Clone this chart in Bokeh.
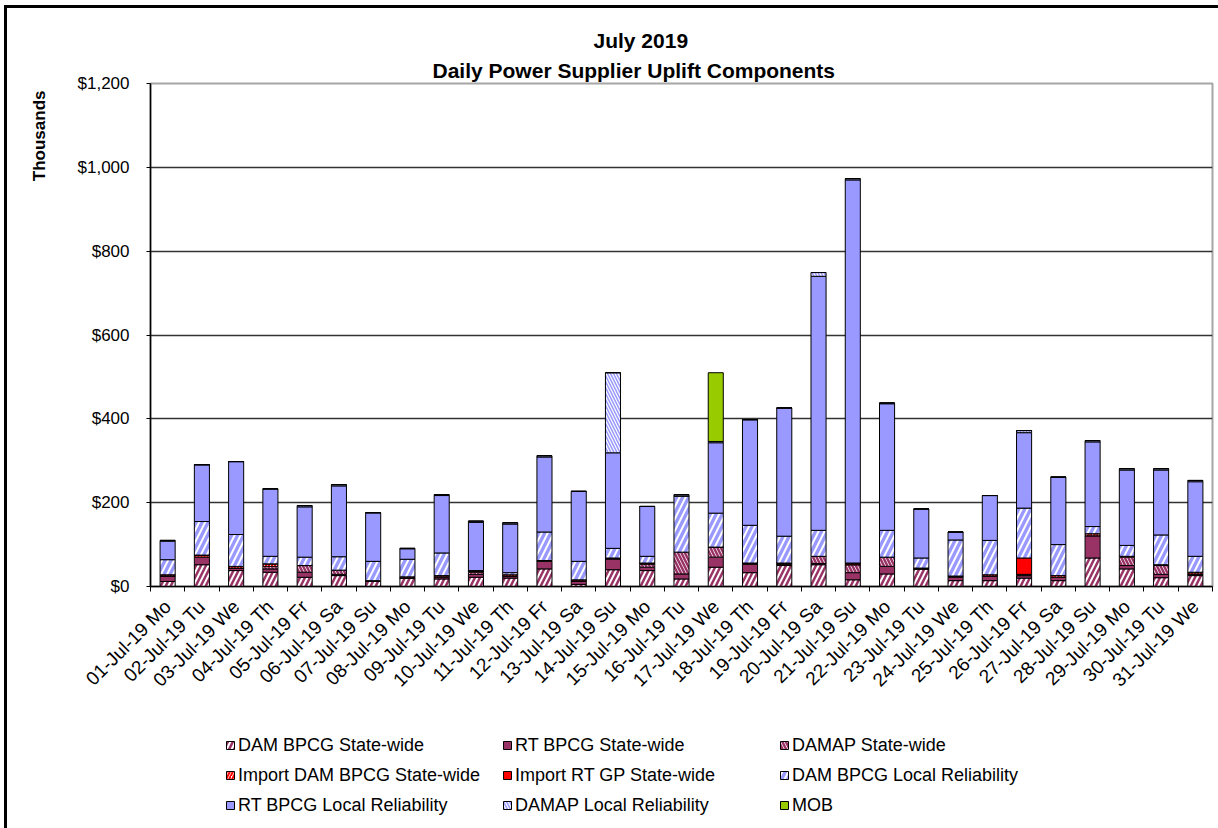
import math
from bokeh.plotting import figure
from bokeh.layouts import column
from bokeh.models import (ColumnDataSource, Range1d, FixedTicker, NumeralTickFormatter,
                          Legend, LegendItem, Title)
from bokeh.embed import file_html
from bokeh.resources import INLINE

# ---------------- data (thousands of $) ----------------
days = ["01-Jul-19 Mo", "02-Jul-19 Tu", "03-Jul-19 We", "04-Jul-19 Th", "05-Jul-19 Fr",
        "06-Jul-19 Sa", "07-Jul-19 Su", "08-Jul-19 Mo", "09-Jul-19 Tu", "10-Jul-19 We",
        "11-Jul-19 Th", "12-Jul-19 Fr", "13-Jul-19 Sa", "14-Jul-19 Su", "15-Jul-19 Mo",
        "16-Jul-19 Tu", "17-Jul-19 We", "18-Jul-19 Th", "19-Jul-19 Fr", "20-Jul-19 Sa",
        "21-Jul-19 Su", "22-Jul-19 Mo", "23-Jul-19 Tu", "24-Jul-19 We", "25-Jul-19 Th",
        "26-Jul-19 Fr", "27-Jul-19 Sa", "28-Jul-19 Su", "29-Jul-19 Mo", "30-Jul-19 Tu",
        "31-Jul-19 We"]

dam_bpcg_sw   = [12, 52, 38, 34, 22, 26, 12, 20, 18, 22, 20, 42, 5, 40, 38, 18, 46, 33, 50, 52,
                 16, 30, 42, 14, 14, 20, 14, 68, 42, 21, 26]
rt_bpcg_sw    = [13, 18, 6, 8, 12, 3, 0, 0, 5, 7, 4, 18, 8, 26, 8, 12, 24, 20, 3, 3,
                 17, 18, 0, 8, 10, 6, 8, 53, 8, 8, 4]
damap_sw      = [0, 0, 0, 6, 16, 10, 0, 0, 0, 5, 0, 0, 0, 0, 7, 52, 24, 0, 0, 17,
                 19, 22, 0, 0, 0, 0, 0, 0, 20, 21, 0]
import_dam_sw = [3, 5, 4, 6, 0, 0, 2, 3, 3, 3, 4, 2, 3, 2, 3, 0, 0, 3, 3, 0,
                 0, 0, 2, 3, 4, 3, 4, 5, 2, 2, 4]
import_rt_gp  = [0, 0, 0, 0, 0, 0, 0, 0, 0, 0, 0, 0, 0, 0, 0, 0, 0, 0, 0, 0,
                 4, 0, 0, 0, 0, 39, 0, 0, 0, 0, 0]
dam_bpcg_lr   = [36, 80, 76, 18, 20, 32, 46, 42, 54, 1, 5, 68, 44, 23, 16, 134, 81, 90, 64, 62,
                 0, 64, 24, 86, 82, 119, 74, 17, 26, 71, 38]
rt_bpcg_lr    = [44, 135, 174, 161, 120, 169, 116, 25, 137, 115, 116, 179, 167, 228, 119, 0, 168, 252, 306, 606,
                 914, 302, 117, 19, 107, 180, 161, 202, 180, 155, 178]
damap_lr      = [2, 1, 0, 0, 3, 3, 0, 1, 2, 3, 3, 3, 0, 191, 0, 3, 3, 0, 0, 9,
                 3, 2, 0, 0, 0, 5, 0, 3, 3, 3, 3]
mob           = [0, 0, 0, 0, 0, 0, 0, 0, 0, 0, 0, 0, 0, 0, 0, 0, 164, 0, 0, 0,
                 0, 0, 0, 0, 0, 0, 0, 0, 0, 0, 0]

series_names = ["DAM BPCG State-wide", "RT BPCG State-wide", "DAMAP State-wide",
                "Import DAM BPCG State-wide", "Import RT GP State-wide", "DAM BPCG Local Reliability",
                "RT BPCG Local Reliability", "DAMAP Local Reliability", "MOB"]
y_ticks = [0, 200, 400, 600, 800, 1000, 1200]

# ---------------- styling ----------------
FONT = "Liberation Sans"
keys = ["dam_sw", "rt_sw", "damap_sw", "imp_dam", "imp_rt", "dam_lr", "rt_lr", "damap_lr", "mob"]
fills = ["white", "#993366", "white", "white", "#FF0000", "#9999FF", "#9999FF", "#9999FF", "#99CC00"]
hatches = ["/", " ", "\\", "/", " ", "/", " ", "\\", " "]
hatch_colors = ["#993366", "#993366", "#993366", "#FF0000", "#FF0000", "white", "white", "white", "white"]
hatch_scales = [10, 8, 7, 6, 8, 12, 8, 6, 8]
hatch_weights = [2.5, 1, 2.5, 2, 1, 2, 1, 1.2, 1]

centers = [i + 0.5 for i in range(len(days))]
src = ColumnDataSource(dict(x=centers, dam_sw=dam_bpcg_sw, rt_sw=rt_bpcg_sw, damap_sw=damap_sw,
                            imp_dam=import_dam_sw, imp_rt=import_rt_gp, dam_lr=dam_bpcg_lr,
                            rt_lr=rt_bpcg_lr, damap_lr=damap_lr, mob=mob))

bar_style = dict(fill_color=fills, hatch_pattern=hatches, hatch_color=hatch_colors,
                 hatch_scale=hatch_scales, hatch_weight=hatch_weights,
                 line_color="black", line_width=1)

TOP_H = 715
p = figure(frame_width=1062, frame_height=503, output_backend="svg", toolbar_location=None,
           title=None, x_range=Range1d(0, len(days)), y_range=Range1d(0, 1200),
           min_border_left=150, min_border_right=6, min_border_top=83,
           min_border_bottom=TOP_H - 83 - 503)
p.styles = {"background-color": "white",
            "box-shadow": "inset 4px 5px 0 0 white, inset 7px 8px 0 0 black"}
p.background_fill_color = "white"
p.border_fill_alpha = 0
p.outline_line_color = "#a6a6a6"
p.outline_line_width = 2

rs = p.vbar_stack(keys, x="x", width=0.44, source=src, **bar_style)

# y axis
p.yaxis.ticker = FixedTicker(ticks=y_ticks)
p.yaxis.formatter = NumeralTickFormatter(format="$0,0")
p.yaxis.major_label_text_font = FONT
p.yaxis.major_label_text_font_size = "17px"
p.yaxis.major_label_text_color = "black"
p.yaxis.major_tick_out = 4
p.yaxis.major_tick_in = 0
p.yaxis.minor_tick_out = 0
p.yaxis.minor_tick_in = 0
p.yaxis.major_label_standoff = 17
p.yaxis.axis_line_color = "black"
p.yaxis.axis_line_width = 1.5
p.yaxis.major_tick_line_color = "black"

# x axis: labels at bar centres, tick marks at category boundaries
p.xaxis.ticker = FixedTicker(ticks=centers, minor_ticks=list(range(len(days) + 1)))
p.xaxis.major_label_overrides = {c: d for c, d in zip(centers, days)}
p.xaxis.major_label_orientation = math.pi / 4
p.xaxis.major_label_text_font = FONT
p.xaxis.major_label_text_font_size = "19px"
p.xaxis.major_label_text_color = "black"
p.xaxis.major_tick_out = 0
p.xaxis.major_tick_in = 0
p.xaxis.minor_tick_out = 5
p.xaxis.minor_tick_in = 0
p.xaxis.minor_tick_line_color = "black"
p.xaxis.major_label_standoff = 12
p.xaxis.axis_line_color = "black"
p.xaxis.axis_line_width = 1.5

p.xgrid.visible = False
p.ygrid.ticker = FixedTicker(ticks=y_ticks)
p.ygrid.grid_line_color = "#333333"
p.ygrid.grid_line_width = 1.3

# titles
t2 = Title(text="Daily Power Supplier Uplift Components", align="left", offset=282,
           text_font=FONT, text_font_size="21px", text_font_style="bold", text_color="black",
           standoff=3)
t1 = Title(text="July 2019", align="left", offset=443, text_color="black",
           text_font=FONT, text_font_size="21px", text_font_style="bold", standoff=7)
p.add_layout(t2, "above")
p.add_layout(t1, "above")
ty = Title(text="Thousands", align="right", offset=7, text_font=FONT, text_font_size="17px",
           text_font_style="bold", text_color="black", standoff=51)
p.add_layout(ty, "left")

# ---------------- legend strip (same series, ranges set far away so only legend keys show) ----------------
LEG_H = 828 - TOP_H
q = figure(width=1218, height=LEG_H, output_backend="svg", toolbar_location=None,
           title=None, x_axis_location=None, y_axis_location=None,
           min_border=0, x_range=Range1d(500, 531), y_range=Range1d(5000, 5010))
q.styles = {"background-color": "white",
            "box-shadow": "inset 4px 0 0 0 white, inset 7px 0 0 0 black"}
q.background_fill_alpha = 0
q.border_fill_alpha = 0
q.outline_line_color = None
q.grid.visible = False

leg_rs = q.vbar_stack(keys, x="x", width=0.44, source=src, **bar_style)

FRAME_LEFT = 150
col_x = [225 - FRAME_LEFT, 502 - FRAME_LEFT, 779 - FRAME_LEFT]
for c in range(3):
    items = [LegendItem(label=series_names[i], renderers=[leg_rs[i]]) for i in (c, c + 3, c + 6)]
    lg = Legend(items=items, location=(col_x[c], 8), orientation="vertical",
                padding=0, margin=0, spacing=0, glyph_width=10, glyph_height=10,
                label_height=30, label_standoff=3, label_text_font=FONT,
                label_text_font_size="18px", label_text_color="black",
                border_line_alpha=0, background_fill_alpha=0)
    q.add_layout(lg, "center")

layout = column(p, q, spacing=0)
open("out.html", "w").write(file_html(layout, INLINE))
